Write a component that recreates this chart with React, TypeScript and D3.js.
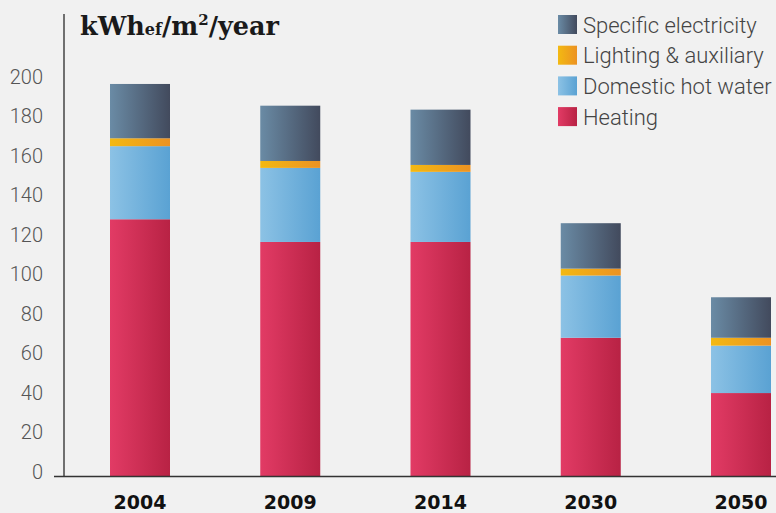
import React, { useRef, useEffect } from 'react';
import * as d3 from 'd3';

// chart data
const years = ['2004', '2009', '2014', '2030', '2050'];
const heating = [130, 118.5, 118.5, 70, 42];
const hotWater = [37, 37.5, 35.5, 31.5, 24];
const lighting = [4, 3.5, 3.5, 3.5, 4];
const specificElec = [27.5, 28, 28, 23, 20.5];
const yTicks = [0, 20, 40, 60, 80, 100, 120, 140, 160, 180, 200];

const seriesNames = ['Heating', 'Domestic hot water', 'Lighting & auxiliary', 'Specific electricity'];
const seriesValues = [heating, hotWater, lighting, specificElec];
const gradients = [
  ['#e23b65', '#b82244'],
  ['#8cc2e5', '#5aa2d3'],
  ['#f3b912', '#ec9222'],
  ['#6a8ba5', '#424a5d'],
];

function App() {
  const svgRef = useRef<SVGSVGElement>(null);

  useEffect(() => {
    document.body.style.margin = '0';
    document.body.style.background = '#f1f1f1';

    const width = 776;
    const height = 513;
    const svg = d3.select(svgRef.current);
    svg.selectAll('*').remove();
    svg.attr('width', width).attr('height', height);

    svg.append('rect').attr('width', width).attr('height', height).attr('fill', '#f1f1f1');

    // gradients
    const defs = svg.append('defs');
    gradients.forEach((g, i) => {
      const lg = defs.append('linearGradient')
        .attr('id', 'grad' + i)
        .attr('x1', '0%').attr('x2', '100%')
        .attr('y1', '0%').attr('y2', '0%');
      lg.append('stop').attr('offset', '0%').attr('stop-color', g[0]);
      lg.append('stop').attr('offset', '100%').attr('stop-color', g[1]);
    });

    const table = years.map((year, i) => {
      const row: any = { year };
      seriesNames.forEach((name, s) => { row[name] = seriesValues[s][i]; });
      return row;
    });

    const stacked = d3.stack().keys(seriesNames)(table);

    const x = d3.scalePoint().domain(years).range([140, 741]);
    const y = d3.scaleLinear().domain([0, 200]).range([476, 81]);
    const barWidth = 60;

    // bars
    stacked.forEach((layer, s) => {
      svg.append('g')
        .selectAll('rect')
        .data(layer)
        .enter()
        .append('rect')
        .attr('x', (d: any) => (x(d.data.year) as number) - barWidth / 2)
        .attr('width', barWidth)
        .attr('y', d => y(d[1]))
        .attr('height', d => y(d[0]) - y(d[1]))
        .attr('fill', `url(#grad${s})`);
    });

    // y axis labels
    const yAxis = svg.append('g')
      .attr('transform', 'translate(64,0)')
      .call(d3.axisLeft(y).tickValues(yTicks).tickSize(0).tickPadding(21));
    yAxis.select('.domain').remove();
    yAxis.selectAll('text')
      .attr('dy', '0.32em')
      .attr('y', -4)
      .style('font-family', 'Roboto')
      .style('font-weight', '300')
      .style('font-size', '20px')
      .style('fill', '#555');

    // axis lines
    svg.append('line')
      .attr('x1', 64).attr('x2', 64)
      .attr('y1', 14).attr('y2', 476)
      .attr('stroke', '#444').attr('stroke-width', 1.5);
    svg.append('line')
      .attr('x1', 54).attr('x2', width)
      .attr('y1', 476.5).attr('y2', 476.5)
      .attr('stroke', '#333').attr('stroke-width', 1.5);

    // x labels
    svg.append('g')
      .selectAll('text')
      .data(years)
      .enter()
      .append('text')
      .attr('x', d => x(d) as number)
      .attr('y', 509)
      .attr('text-anchor', 'middle')
      .style('font-family', 'DejaVu Sans')
      .style('font-weight', 'bold')
      .style('font-size', '19px')
      .style('fill', '#111')
      .text(d => d);

    // title
    const title = svg.append('text')
      .attr('x', 80)
      .attr('y', 35)
      .style('font-family', 'DejaVu Serif')
      .style('font-weight', 'bold')
      .style('font-size', '25.5px')
      .style('fill', '#1a1a1a');
    title.append('tspan').text('kWh');
    title.append('tspan').style('font-size', '16px').text('ef');
    title.append('tspan').text('/m');
    title.append('tspan').style('font-size', '15px').attr('dy', -10).text('2');
    title.append('tspan').attr('dy', 10).text('/year');

    // legend (top to bottom: reverse stack order)
    const legendItems = seriesNames.map((name, i) => ({ name, i })).reverse();
    const legend = svg.append('g')
      .selectAll('g')
      .data(legendItems)
      .enter()
      .append('g')
      .attr('transform', (d, k) => `translate(558,${15 + k * 30.7})`);
    legend.append('rect')
      .attr('width', 19)
      .attr('height', 19)
      .attr('fill', d => `url(#grad${d.i})`);
    legend.append('text')
      .attr('x', 25)
      .attr('y', 10)
      .attr('dy', '0.35em')
      .style('font-family', 'Roboto')
      .style('font-weight', '300')
      .style('font-size', '22px')
      .style('fill', '#444')
      .text(d => d.name);
  }, []);

  return <svg ref={svgRef} style={{ display: 'block' }}></svg>;
}

export default App;
